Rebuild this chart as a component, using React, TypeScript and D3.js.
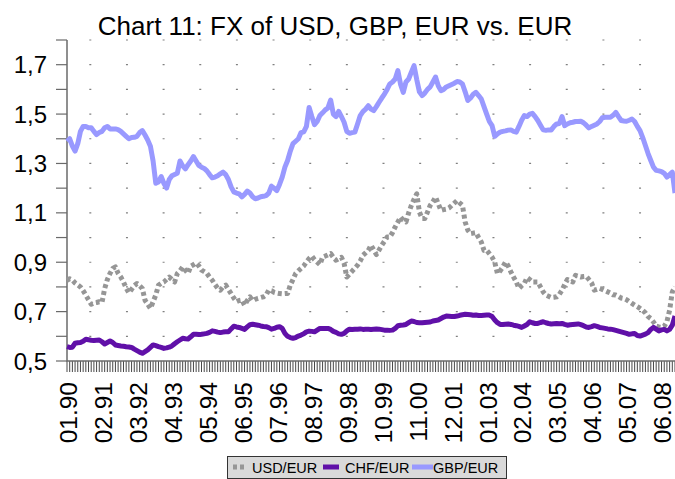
import React from "react";
import * as d3 from "d3";

const title = "Chart 11: FX of USD, GBP, EUR vs. EUR";

const xLabels = ["01.90","02.91","03.92","04.93","05.94","06.95","07.96","08.97","09.98","10.99","11.00","12.01","01.03","02.04","03.05","04.06","05.07","06.08"];

const yTickValues = [0.5,0.6,0.7,0.8,0.9,1.0,1.1,1.2,1.3,1.4,1.5,1.6,1.7,1.8];
const yLabelValues = [0.5,0.7,0.9,1.1,1.3,1.5,1.7];

// monthly values, Jan 1990 .. Nov 2008
const usdEur = [
  0.827,0.833,0.828,0.816,0.808,0.80,0.785,0.767,0.748,0.73,0.735,0.737,
  0.74,0.737,0.793,0.83,0.855,0.875,0.881,0.855,0.84,0.82,0.795,0.776,
  0.79,0.805,0.814,0.805,0.794,0.746,0.73,0.713,0.74,0.767,0.807,0.815,
  0.82,0.83,0.84,0.83,0.82,0.854,0.865,0.881,0.868,0.855,0.884,0.89,
  0.897,0.885,0.868,0.862,0.855,0.84,0.827,0.81,0.795,0.787,0.80,0.807,
  0.79,0.773,0.755,0.74,0.745,0.747,0.726,0.745,0.76,0.744,0.75,0.754,
  0.757,0.76,0.767,0.787,0.785,0.778,0.775,0.773,0.772,0.773,0.773,0.807,
  0.83,0.854,0.865,0.875,0.885,0.901,0.915,0.925,0.91,0.90,0.89,0.921,
  0.925,0.93,0.935,0.92,0.908,0.915,0.92,0.895,0.84,0.852,0.864,0.876,
  0.888,0.905,0.928,0.938,0.948,0.969,0.95,0.931,0.95,0.969,0.985,1.002,
  1.002,1.02,1.043,1.063,1.083,1.07,1.063,1.10,1.13,1.155,1.177,1.103,
  1.077,1.077,1.103,1.13,1.145,1.164,1.137,1.11,1.113,1.115,1.12,1.13,
  1.14,1.15,1.14,1.13,1.063,1.03,1.016,1.018,1.02,1.00,0.982,0.948,
  0.948,0.935,0.921,0.90,0.854,0.865,0.881,0.901,0.885,0.861,0.84,0.82,
  0.794,0.805,0.814,0.838,0.83,0.82,0.82,0.82,0.80,0.78,0.767,0.762,
  0.757,0.758,0.76,0.77,0.787,0.81,0.83,0.825,0.82,0.847,0.843,0.84,
  0.842,0.843,0.83,0.816,0.787,0.79,0.794,0.79,0.785,0.78,0.775,0.768,
  0.767,0.762,0.755,0.753,0.748,0.74,0.733,0.726,0.72,0.713,0.705,0.695,
  0.68,0.672,0.658,0.641,0.638,0.636,0.641,0.66,0.706,0.78,0.80
];

const chfEur = [
  0.558,0.555,0.556,0.572,0.574,0.575,0.58,0.588,0.586,0.584,0.583,0.584,
  0.585,0.578,0.569,0.575,0.581,0.575,0.565,0.563,0.561,0.56,0.558,0.557,
  0.555,0.548,0.542,0.536,0.531,0.538,0.545,0.555,0.565,0.562,0.558,0.555,
  0.551,0.553,0.556,0.561,0.57,0.578,0.585,0.592,0.59,0.589,0.598,0.608,
  0.608,0.607,0.608,0.61,0.612,0.616,0.622,0.62,0.617,0.615,0.617,0.618,
  0.618,0.63,0.641,0.638,0.636,0.632,0.628,0.638,0.647,0.649,0.647,0.645,
  0.642,0.64,0.639,0.635,0.629,0.632,0.637,0.639,0.632,0.612,0.60,0.595,
  0.592,0.595,0.601,0.605,0.61,0.618,0.621,0.62,0.618,0.625,0.632,0.632,
  0.632,0.632,0.628,0.62,0.616,0.61,0.608,0.612,0.622,0.629,0.628,0.629,
  0.629,0.63,0.628,0.629,0.629,0.628,0.629,0.63,0.629,0.627,0.625,0.625,
  0.624,0.625,0.632,0.643,0.645,0.646,0.648,0.655,0.662,0.66,0.656,0.655,
  0.655,0.656,0.657,0.658,0.662,0.664,0.666,0.672,0.678,0.682,0.681,0.68,
  0.68,0.682,0.685,0.687,0.689,0.688,0.687,0.685,0.686,0.684,0.684,0.685,
  0.686,0.686,0.68,0.666,0.655,0.648,0.648,0.649,0.65,0.648,0.645,0.643,
  0.64,0.636,0.642,0.648,0.659,0.655,0.652,0.652,0.656,0.659,0.655,0.652,
  0.65,0.651,0.652,0.651,0.652,0.648,0.645,0.647,0.648,0.649,0.65,0.647,
  0.643,0.638,0.636,0.639,0.643,0.64,0.636,0.634,0.632,0.63,0.629,0.627,
  0.624,0.621,0.618,0.615,0.612,0.608,0.61,0.611,0.603,0.601,0.605,0.609,
  0.615,0.628,0.636,0.629,0.622,0.626,0.628,0.622,0.628,0.645,0.682
];

const gbpEur = [
  1.39,1.40,1.37,1.35,1.38,1.43,1.45,1.45,1.445,1.445,1.43,1.417,
  1.425,1.43,1.445,1.45,1.44,1.44,1.44,1.437,1.43,1.42,1.41,1.40,
  1.405,1.406,1.41,1.425,1.433,1.415,1.395,1.37,1.31,1.22,1.225,1.247,
  1.22,1.20,1.235,1.25,1.255,1.26,1.31,1.29,1.278,1.295,1.31,1.328,
  1.31,1.292,1.285,1.28,1.27,1.255,1.242,1.245,1.25,1.258,1.265,1.255,
  1.235,1.205,1.185,1.18,1.177,1.165,1.175,1.188,1.18,1.165,1.157,1.16,
  1.165,1.167,1.17,1.18,1.208,1.20,1.19,1.215,1.245,1.285,1.312,1.35,
  1.38,1.39,1.40,1.425,1.428,1.45,1.527,1.49,1.457,1.47,1.494,1.505,
  1.517,1.525,1.557,1.50,1.49,1.511,1.49,1.467,1.43,1.422,1.425,1.427,
  1.46,1.494,1.51,1.52,1.534,1.52,1.514,1.53,1.548,1.565,1.581,1.60,
  1.622,1.63,1.642,1.676,1.62,1.588,1.63,1.642,1.67,1.696,1.64,1.59,
  1.575,1.585,1.60,1.61,1.63,1.65,1.615,1.595,1.60,1.61,1.615,1.62,
  1.625,1.632,1.63,1.622,1.59,1.555,1.565,1.58,1.588,1.575,1.561,1.53,
  1.50,1.47,1.453,1.41,1.42,1.427,1.43,1.432,1.435,1.436,1.43,1.427,
  1.45,1.475,1.494,1.49,1.50,1.503,1.49,1.474,1.455,1.436,1.434,1.436,
  1.436,1.45,1.46,1.462,1.49,1.453,1.46,1.465,1.467,1.47,1.47,1.471,
  1.465,1.455,1.444,1.45,1.455,1.46,1.47,1.485,1.487,1.487,1.487,1.495,
  1.507,1.49,1.474,1.472,1.471,1.475,1.48,1.47,1.45,1.433,1.405,1.373,
  1.34,1.312,1.285,1.272,1.27,1.267,1.26,1.245,1.255,1.265,1.18
];

const series = [
  { name: "USD/EUR", values: usdEur, color: "#969696", dash: "4 3" },
  { name: "CHF/EUR", values: chfEur, color: "#6010A8", dash: null },
  { name: "GBP/EUR", values: gbpEur, color: "#9999FF", dash: null },
];

const W = 675, H = 479;
const left = 67, right = 675, top = 40, bottom = 361;
const labelStep = 13;
const FONT = "'Liberation Sans', Arial, sans-serif";

export default function App() {
  const n = usdEur.length;
  const x = d3.scaleLinear().domain([0, n - 1]).range([left, right]);
  const y = d3.scaleLinear().domain([0.5, 1.8]).range([bottom, top]);
  const line = d3.line<number>().x((_, i) => x(i)).y((d) => y(d));
  const fmt = (v: number) => v.toFixed(1).replace(".", ",");
  const idx = d3.range(n);

  return (
    <svg width={W} height={H} style={{ position: "absolute", left: 0, top: 0, background: "#fff" }} fontFamily={FONT}>
      <text x={335} y={35} textAnchor="middle" fontSize={26} fill="#000">{title}</text>

      {/* dotted horizontal gridlines */}
      {yTickValues.filter((v) => v > 0.5).map((v) => (
        <line key={"g" + v} x1={left + 22.3} x2={right} y1={y(v)} y2={y(v)} stroke="#808080" strokeWidth={1.2} strokeDasharray="2 34.65" />
      ))}

      {/* y axis */}
      <line x1={left} x2={left} y1={top} y2={bottom} stroke="#6a6a6a" strokeWidth={1.5} />
      {yTickValues.map((v) => (
        <line key={"t" + v} x1={left - 11} x2={left} y1={y(v)} y2={y(v)} stroke="#6a6a6a" strokeWidth={1.2} />
      ))}
      {yLabelValues.map((v) => (
        <text key={"l" + v} x={47} y={y(v)} dy="0.36em" textAnchor="end" fontSize={24} fill="#000">{fmt(v)}</text>
      ))}

      {/* x axis ticks */}
      {idx.map((i) => (
        <line key={"xt" + i} x1={x(i)} x2={x(i)} y1={bottom} y2={bottom + 11} stroke="#333" strokeWidth={0.9} />
      ))}
      <line x1={left} x2={right} y1={bottom} y2={bottom} stroke="#6a6a6a" strokeWidth={1.5} />
      {xLabels.map((lab, k) => (
        <text key={lab} transform={`translate(${x(k * labelStep) + 1},382) rotate(-90)`} dy="0.36em" textAnchor="end" fontSize={24.5} fill="#000">{lab}</text>
      ))}

      {/* series */}
      {series.map((s) => (
        <path key={s.name} d={line(s.values) || ""} fill="none" stroke={s.color} strokeWidth={5}
          strokeDasharray={s.dash || undefined} strokeLinejoin="round" />
      ))}

      {/* legend */}
      <rect x={227.5} y={456.5} width={279} height={22} fill="#d9d9d9" stroke="#333" strokeWidth={1} />
      <line x1={233} x2={246} y1={467} y2={467} stroke={series[0].color} strokeWidth={5} strokeDasharray="4 3" />
      <text x={252} y={473} fontSize={14.5} fill="#000">{series[0].name}</text>
      <line x1={323} x2={339} y1={467} y2={467} stroke={series[1].color} strokeWidth={5} />
      <text x={345} y={473} fontSize={14.5} fill="#000">{series[1].name}</text>
      <line x1={412} x2={433} y1={467} y2={467} stroke={series[2].color} strokeWidth={5} />
      <text x={433} y={473} fontSize={14.5} fill="#000">{series[2].name}</text>
    </svg>
  );
}
